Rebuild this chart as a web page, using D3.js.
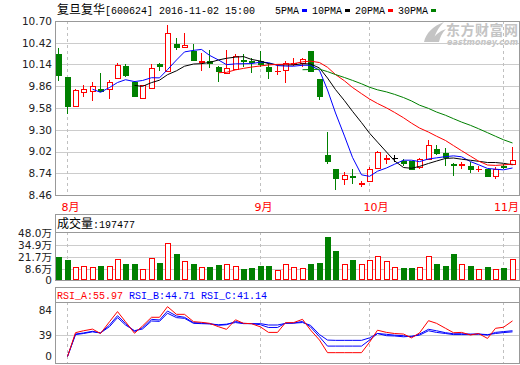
<!DOCTYPE html>
<html>
<head>
<meta charset="utf-8">
<script src="https://cdn.jsdelivr.net/npm/d3@7"></script>
<style>
body { margin: 0; background: #fff; }
svg { display: block; }
</style>
</head>
<body>
<div id="chart"></div>
<script>
// values (price in yuan, volume in 万股)
var titleText = "复旦复华[600624] 2016-11-02 15:00";
var volHeader = "成交量:197477";
var rsiHeader = [["RSI_A:55.97", "a"], [" RSI_B:44.71", "b"], [" RSI_C:41.14", "c"]];

var openP  = [10.28, 9.98, 9.61, 9.79, 9.80, 9.83, 9.82, 9.97, 10.12, 9.92,
              9.71, 9.84, 10.15, 10.06, 10.40, 10.36, 10.32, 10.17, 10.18, 10.11,
              10.03, 10.08, 10.20, 10.18, 10.18, 10.11, 10.05, 10.07, 10.14, 10.16,
              10.31, 9.95, 8.98, 8.80, 8.67, 8.70, 8.60, 8.64, 8.81, 8.92,
              8.93, 8.90, 8.90, 8.82, 8.92, 9.05, 9.00, 8.86, 8.85, 8.83,
              8.79, 8.80, 8.70, 8.83, 8.86];
var highP  = [10.35, 9.98, 9.83, 9.88, 9.91, 10.03, 9.94, 10.16, 10.14, 9.93,
              9.88, 10.15, 10.16, 10.65, 10.48, 10.54, 10.40, 10.29, 10.33, 10.12,
              10.33, 10.28, 10.27, 10.23, 10.32, 10.16, 10.13, 10.19, 10.23, 10.23,
              10.31, 9.95, 9.27, 8.80, 8.75, 8.80, 8.64, 8.82, 9.03, 8.98,
              8.98, 8.92, 8.90, 8.93, 9.17, 9.10, 9.06, 8.87, 8.89, 8.88,
              8.83, 8.80, 8.82, 8.86, 9.08];
var lowP   = [9.93, 9.50, 9.59, 9.72, 9.67, 9.79, 9.70, 9.96, 9.98, 9.72,
              9.69, 9.82, 10.05, 10.05, 10.33, 10.35, 10.18, 10.06, 10.10, 9.91,
              10.02, 10.07, 10.11, 10.03, 10.11, 9.95, 10.00, 9.90, 10.12, 10.11,
              10.05, 9.68, 8.86, 8.52, 8.59, 8.60, 8.56, 8.63, 8.80, 8.86,
              8.89, 8.83, 8.80, 8.79, 8.91, 8.98, 8.83, 8.70, 8.80, 8.74,
              8.75, 8.70, 8.66, 8.79, 8.86];
var closeP = [10.00, 9.61, 9.81, 9.83, 9.86, 9.80, 9.92, 10.13, 10.01, 9.74,
              9.87, 10.10, 10.12, 10.54, 10.36, 10.39, 10.20, 10.18, 10.16, 10.06,
              10.09, 10.25, 10.19, 10.17, 10.15, 10.06, 10.06, 10.16, 10.16, 10.21,
              10.06, 9.73, 8.90, 8.68, 8.72, 8.69, 8.61, 8.80, 9.01, 8.93,
              8.93, 8.87, 8.80, 8.92, 9.10, 9.00, 8.95, 8.85, 8.86, 8.79,
              8.80, 8.71, 8.80, 8.82, 8.91];
var volume = [22.4, 18.8, 10.8, 11.9, 11.1, 12.6, 12.2, 19.9, 14.4, 14.4,
              8.6, 20.6, 15.5, 37.0, 25.3, 17.4, 14.4, 11.1, 11.1, 13.3,
              14.4, 12.6, 9.0, 10.0, 12.6, 12.6, 7.5, 14.1, 11.1, 10.0,
              14.4, 15.5, 43.9, 28.6, 14.4, 18.8, 14.4, 18.4, 23.1, 17.4,
              10.8, 10.0, 10.0, 11.1, 23.1, 14.4, 12.2, 25.3, 14.4, 12.2,
              9.0, 11.1, 9.0, 10.0, 19.75];
var rsiA = [null, 0, 43.5, 47, 50, 42, 63.5, 82, 63.5, 42.4,
            55.7, 71.6, 71.6, 91, 77, 77, 63.6, 62.4, 60.6, 54.4,
            49.6, 67, 60.6, 60, 54, 44, 44, 61.8, 61.8, 67.9,
            48.4, 30, 7, 7, 7, 7, 7, 26, 48, 44,
            42, 41, 34, 43, 65.4, 60.6, 51.5, 43.4, 44, 39.3,
            42, 33, 51.5, 53.4, 65];
var rsiB = [null, 0, 41, 43, 46, 43, 57.5, 74.5, 60.5, 45.3,
            52.6, 67.9, 66.6, 83, 74, 71.6, 61.8, 61, 60, 57,
            58, 64, 60.5, 60, 58, 53, 53, 61, 61, 64,
            54, 36, 19, 19, 19, 19, 19, 30, 42, 40.5,
            39, 38, 36, 41, 49.7, 47, 43.5, 41.5, 41.5, 41,
            41, 39, 44, 45.5, 47];
var rsiC = [null, 0, 40, 42, 45, 43, 54.5, 71, 57.5, 47.2,
            50.2, 64.8, 64.2, 79, 71, 69.7, 60.6, 60, 59.5, 58,
            59, 62, 60, 60, 60, 57.5, 57.5, 60.5, 61, 62,
            57, 40, 30, 29.5, 29.5, 29.5, 29.5, 34, 42, 38,
            37.5, 36, 37, 39, 47, 44, 42, 40, 40, 40,
            41, 40, 42, 43.7, 45];

var monthIndex  = [1, 24, 37, 53];
var monthLabels = ["8月", "9月", "10月", "11月"];
var priceTicks = [8.46, 8.74, 9.02, 9.30, 9.58, 9.86, 10.14, 10.42, 10.70];
var volTicks = [0, 8.6, 21.7, 34.9, 48.0];
var rsiTicks = [0, 39, 84];
var maNames = ["5PMA", "10PMA", "20PMA", "30PMA"];
var maPeriods = [5, 10, 20, 30];

// styles
var RED = "#ff0000", GREEN = "#008000", BLUE = "#0000ff", BLACK = "#000000";
var maColors = [BLUE, BLACK, RED, GREEN];
var GRID = "#cccccc", FRAME = "#999999";
var NUMFONT = "'DejaVu Sans', 'Noto Sans CJK SC', sans-serif";
var MONO = "'Liberation Mono', 'DejaVu Sans Mono', monospace";
var CJK = "'Noto Sans CJK SC', sans-serif";

var W = 520, H = 365;
var left = 55, right = 519;
var main = {top: 21, bottom: 195};
var vol = {head: 214, top: 232, bottom: 280};
var rsi = {head: 287, top: 302, bottom: 363};

var svg = d3.select("#chart").append("svg")
    .attr("width", W)
    .attr("height", H);

svg.append("rect").attr("width", W).attr("height", H).attr("fill", "#fff");

// scales
var idx = d3.range(closeP.length);
var x = d3.scaleBand().domain(idx).range([54, 516]);
var cx = function(i) { return Math.round(x(i) + x.bandwidth() / 2) + 0.5; };
var yP = d3.scaleLinear().domain([8.46, 10.70]).range([main.bottom, main.top]);
var yV = d3.scaleLinear().domain([0, 48]).range([277.2, 233.2]);
var yR = d3.scaleLinear().domain([0, 84]).range([356.5, 310.5]);

// text helper: CJK runs at 12px, ascii runs in a 6px-wide mono font
function mixed(sel, str) {
  var runs = str.match(/[\u3000-\u9fff\uff00-\uffef]+|[^\u3000-\u9fff\uff00-\uffef]+/g);
  runs.forEach(function(r) {
    var isCjk = /[\u3000-\u9fff\uff00-\uffef]/.test(r);
    sel.append("tspan")
        .attr("font-family", isCjk ? CJK : MONO)
        .attr("font-size", isCjk ? 12 : 10)
        .attr("xml:space", "preserve")
        .text(r);
  });
}

// watermark
var wm = svg.append("g").attr("fill", "#c4c4c4");
wm.append("path")
    .attr("d", "M424,42 C426,33 433,26 444,22 C438,28 435,34 433,42 Z M431,42 C434,36 439,31 446,29 C442,33 440,37 439,42 Z");
wm.append("text")
    .attr("x", 446).attr("y", 35)
    .attr("font-family", CJK).attr("font-size", 14).attr("font-weight", "bold")
    .attr("textLength", 72)
    .text("东方财富网");
wm.append("text")
    .attr("x", 447).attr("y", 45)
    .attr("font-family", NUMFONT).attr("font-size", 8).attr("font-weight", "bold")
    .attr("font-style", "italic")
    .attr("textLength", 71)
    .text("eastmoney.com");

// title and MA legend
var title = svg.append("text").attr("x", 57).attr("y", 14).attr("fill", "#000");
mixed(title, titleText);

var lx = 275;
maNames.forEach(function(name, k) {
  svg.append("text").attr("x", lx).attr("y", 14)
      .attr("font-family", MONO).attr("font-size", 10).text(name);
  var tw = name.length * 6;
  svg.append("rect")
      .attr("x", lx + tw + 3).attr("y", 9)
      .attr("width", 5).attr("height", 3)
      .attr("fill", maColors[k]);
  lx += tw + 3 + 5 + 5;
});

// ---------- grids ----------
function hGrid(values, scale) {
  svg.append("g").selectAll("line")
      .data(values)
      .enter().append("line")
      .attr("x1", left).attr("x2", right)
      .attr("y1", function(d) { return Math.round(scale(d)) + 0.5; })
      .attr("y2", function(d) { return Math.round(scale(d)) + 0.5; })
      .attr("stroke", GRID)
      .attr("shape-rendering", "crispEdges");
}
function vGrid(top, bottom) {
  svg.append("g").selectAll("line")
      .data(monthIndex)
      .enter().append("line")
      .attr("x1", function(d) { return cx(d); })
      .attr("x2", function(d) { return cx(d); })
      .attr("y1", top).attr("y2", bottom)
      .attr("stroke", "#c0c0c0")
      .attr("stroke-dasharray", "3,3")
      .attr("shape-rendering", "crispEdges");
}

hGrid(priceTicks.slice(1, -1), yP);
vGrid(main.top, main.bottom);
hGrid(volTicks.slice(1, -1), yV);
vGrid(vol.top, vol.bottom);
hGrid([39], yR);
vGrid(rsi.top, rsi.bottom);

// frames
function frame(top, bottom) {
  svg.append("rect")
      .attr("x", left + 0.5).attr("y", top + 0.5)
      .attr("width", right - left).attr("height", bottom - top)
      .attr("fill", "none").attr("stroke", FRAME)
      .attr("shape-rendering", "crispEdges");
}
frame(main.top, main.bottom);
frame(vol.head, vol.bottom);
frame(rsi.head, rsi.bottom);
[vol.top, rsi.top].forEach(function(y) {
  svg.append("line").attr("x1", left).attr("x2", right + 1)
      .attr("y1", y + 0.5).attr("y2", y + 0.5)
      .attr("stroke", FRAME).attr("shape-rendering", "crispEdges");
});

// axes labels
function leftAxis(scale, ticks, fmt) {
  var g = svg.append("g")
      .attr("transform", "translate(" + left + ",0)")
      .call(d3.axisLeft(scale).tickValues(ticks).tickSize(0).tickPadding(3).tickFormat(fmt));
  g.select(".domain").remove();
  g.selectAll("text")
      .attr("font-family", NUMFONT)
      .attr("font-size", 10.5)
      .attr("fill", "#222");
  return g;
}
leftAxis(yP, priceTicks, d3.format(".2f"));
var volAxis = leftAxis(yV, volTicks, function(d) { return d === 0 ? "0" : d.toFixed(1) + "万"; });
// the zero label sits on the panel's bottom edge, as in the original
volAxis.selectAll(".tick").filter(function(d) { return d === 0; })
    .select("text").attr("dy", "0.62em");
leftAxis(yR, rsiTicks, d3.format("d"));

// month labels (the last one is kept inside the picture)
svg.append("g").selectAll("text")
    .data(monthIndex)
    .enter().append("text")
    .attr("x", function(d) { return cx(d) - 6; })
    .attr("y", 211)
    .attr("fill", RED)
    .attr("font-family", NUMFONT)
    .attr("font-size", 11)
    .text(function(d, k) { return monthLabels[k]; })
    .each(function() {
      var b = this.getBBox();
      if (b.x + b.width > W - 1) d3.select(this).attr("x", W - 1 - b.width);
    });

// ---------- candles ----------
function candleColor(i) {
  if (closeP[i] > openP[i]) return RED;
  if (closeP[i] < openP[i]) return GREEN;
  return BLACK;
}
var candles = svg.append("g").attr("shape-rendering", "crispEdges");
idx.forEach(function(i) {
  var c = candleColor(i);
  var xc = cx(i);
  var yTop = Math.round(yP(Math.max(openP[i], closeP[i])));
  var yBot = Math.round(yP(Math.min(openP[i], closeP[i])));
  var yHi = Math.round(yP(highP[i]));
  var yLo = Math.round(yP(lowP[i]));
  if (c === RED) {
    candles.append("line").attr("x1", xc).attr("x2", xc)
        .attr("y1", yHi).attr("y2", yTop).attr("stroke", c);
    candles.append("line").attr("x1", xc).attr("x2", xc)
        .attr("y1", yBot).attr("y2", yLo).attr("stroke", c);
  } else {
    candles.append("line").attr("x1", xc).attr("x2", xc)
        .attr("y1", yHi).attr("y2", yLo).attr("stroke", c);
  }
  if (yBot - yTop < 1) {
    candles.append("line").attr("x1", xc - 3).attr("x2", xc + 3)
        .attr("y1", yTop + 0.5).attr("y2", yTop + 0.5).attr("stroke", c);
  } else {
    candles.append("rect")
        .attr("x", xc - 2.5).attr("y", yTop + 0.5)
        .attr("width", 5).attr("height", yBot - yTop)
        .attr("fill", c === RED ? "#fff" : c)
        .attr("stroke", c);
  }
});

// moving averages computed from the closes
function movingAvg(n) {
  return closeP.map(function(d, i) {
    return i < n - 1 ? null : d3.mean(closeP.slice(i - n + 1, i + 1));
  });
}
var priceLine = d3.line()
    .defined(function(d) { return d != null; })
    .x(function(d, i) { return cx(i); })
    .y(function(d) { return yP(d); });
maPeriods.forEach(function(n, k) {
  svg.append("path")
      .datum(movingAvg(n))
      .attr("d", priceLine)
      .attr("fill", "none")
      .attr("stroke", maColors[k])
      .attr("stroke-width", 1);
});

// ---------- volume ----------
var volG = svg.append("g").attr("shape-rendering", "crispEdges");
volG.selectAll("rect")
    .data(volume)
    .enter().append("rect")
    .attr("x", function(d, i) { return cx(i) - 2.5; })
    .attr("y", function(d) { return Math.round(yV(d)) + 0.5; })
    .attr("width", 5)
    .attr("height", function(d) { return vol.bottom - Math.round(yV(d)) - 1; })
    .attr("fill", function(d, i) { return closeP[i] >= openP[i] ? "#fff" : GREEN; })
    .attr("stroke", function(d, i) { return closeP[i] >= openP[i] ? RED : GREEN; });

var vh = svg.append("text").attr("x", 57).attr("y", 228).attr("fill", "#000");
mixed(vh, volHeader);

// ---------- RSI ----------
var rsiLine = d3.line()
    .defined(function(d) { return d != null; })
    .x(function(d, i) { return cx(i); })
    .y(function(d) { return yR(d); });
[[rsiC, BLUE], [rsiB, BLUE], [rsiA, RED]].forEach(function(s) {
  svg.append("path")
      .datum(s[0])
      .attr("d", rsiLine)
      .attr("fill", "none")
      .attr("stroke", s[1])
      .attr("stroke-width", 1);
});

var rh = svg.append("text").attr("x", 57).attr("y", 299)
    .attr("font-family", MONO).attr("font-size", 10).attr("xml:space", "preserve");
rsiHeader.forEach(function(p) {
  rh.append("tspan")
      .attr("fill", p[1] === "a" ? RED : BLUE)
      .text(p[0]);
});
</script>
</body>
</html>
